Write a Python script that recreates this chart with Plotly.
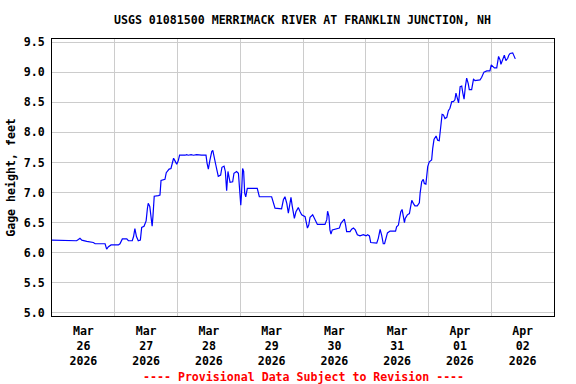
import pandas as pd
import plotly.graph_objects as go

title_text = "USGS 01081500 MERRIMACK RIVER AT FRANKLIN JUNCTION, NH"
y_title = "Gage height, feet"
footer_text = "---- Provisional Data Subject to Revision ----"

start = pd.Timestamp("2026-03-26 00:00")
end = pd.Timestamp("2026-04-03 00:00")

hours = [0, 7.5, 7.8, 9.4, 10.1, 10.7, 11.4, 12.0, 13.3, 15.8, 16.5, 20.3, 20.9, 21.6, 22.6, 25.4, 26.0, 26.9, 28.6, 29.2,
         30.7, 31.2, 31.7, 32.3, 33.0, 33.8, 34.3, 35.2, 36.0, 36.5, 36.8, 37.4, 37.9, 38.3, 38.6, 39.1, 40.7, 41.3, 41.7, 43.2,
         43.7, 44.8, 45.5, 46.0, 46.5, 47.0, 47.7, 48.3, 48.8, 50.9, 51.5, 52.1, 53.2, 54.1, 55.3, 57.2, 58.9, 59.3, 59.8, 60.4,
         61.1, 61.5, 62.0, 62.6, 63.1, 63.6, 64.5, 65.0, 65.8, 66.3, 66.8, 67.3, 68.1, 69.1, 69.6, 70.6, 71.3, 71.7, 72.2, 72.5,
         72.9, 73.3, 73.7, 74.1, 74.7, 78.5, 79.3, 84.0, 84.9, 85.3, 87.8, 88.5, 89.1, 89.8, 90.4, 91.0, 91.4, 91.9, 92.3, 92.7,
         93.3, 94.2, 94.9, 95.5, 96.8, 97.7, 98.2, 98.7, 99.7, 100.6, 101.5, 104.4, 105.1, 105.4, 105.9, 106.3, 106.7, 107.2, 108.2, 109.9,
         110.5, 111.2, 111.8, 112.3, 112.7, 114.0, 114.6, 115.3, 116.0, 116.8, 117.8, 119.1, 120.1, 120.7, 121.4, 121.9, 124.2, 124.8, 125.5, 126.1,
         126.7, 127.2, 127.7, 128.3, 129.3, 131.4, 131.8, 132.5, 132.8, 133.4, 133.9, 134.4, 134.8, 135.1, 135.9, 136.7, 137.2, 137.6, 138.2, 138.8,
         139.7, 140.5, 140.8, 141.4, 142.0, 142.4, 143.0, 143.3, 143.7, 144.3, 145.2, 145.6, 146.1, 146.9, 147.5, 148.1, 148.7, 149.2, 149.7, 150.3,
         151.0, 151.6, 152.2, 152.9, 153.5, 154.1, 154.5, 155.0, 155.5, 156.1, 156.7, 157.1, 157.6, 158.1, 158.6, 159.2, 159.6, 160.5, 161.2, 161.8,
         163.1, 163.7, 164.3, 165.2, 166.3, 167.5, 168.0, 168.5, 169.2, 170.1, 170.5, 170.8, 171.4, 171.7, 172.4, 173.0, 173.6, 174.3, 174.7, 175.2,
         176.2, 176.7, 177.2]

gage_ft = [6.21, 6.21, 6.20, 6.20, 6.22, 6.24, 6.21, 6.20, 6.19, 6.17, 6.15, 6.15, 6.06, 6.10, 6.13, 6.13, 6.15, 6.23, 6.23, 6.20,
           6.20, 6.27, 6.40, 6.27, 6.20, 6.21, 6.42, 6.44, 6.53, 6.74, 6.82, 6.77, 6.63, 6.44, 6.60, 6.94, 6.95, 6.96, 7.20, 7.22,
           7.33, 7.39, 7.40, 7.49, 7.57, 7.53, 7.47, 7.53, 7.62, 7.62, 7.63, 7.62, 7.63, 7.62, 7.63, 7.62, 7.62, 7.49, 7.39, 7.54,
           7.68, 7.70, 7.57, 7.47, 7.37, 7.27, 7.29, 7.42, 7.44, 7.35, 7.03, 7.35, 7.17, 7.18, 7.32, 7.35, 7.32, 6.99, 6.79, 6.99,
           7.40, 7.35, 6.99, 6.93, 7.07, 7.07, 6.93, 6.93, 6.77, 6.74, 6.73, 6.88, 6.93, 6.82, 6.66, 6.85, 6.92, 6.77, 6.63, 6.57,
           6.68, 6.75, 6.68, 6.63, 6.60, 6.41, 6.46, 6.59, 6.63, 6.54, 6.47, 6.47, 6.55, 6.69, 6.61, 6.38, 6.31, 6.38, 6.39, 6.41,
           6.49, 6.54, 6.56, 6.46, 6.35, 6.35, 6.39, 6.41, 6.38, 6.30, 6.28, 6.30, 6.28, 6.30, 6.28, 6.17, 6.16, 6.24, 6.39, 6.29,
           6.15, 6.15, 6.24, 6.33, 6.36, 6.36, 6.43, 6.46, 6.54, 6.68, 6.72, 6.60, 6.50, 6.57, 6.63, 6.65, 6.77, 6.87, 6.82, 6.78,
           6.78, 6.83, 6.99, 7.18, 7.22, 7.15, 7.14, 7.32, 7.43, 7.51, 7.54, 7.73, 7.88, 7.94, 7.87, 7.86, 8.05, 8.30, 8.29, 8.23,
           8.25, 8.36, 8.40, 8.51, 8.51, 8.54, 8.65, 8.58, 8.49, 8.76, 8.77, 8.66, 8.55, 8.76, 8.90, 8.81, 8.71, 8.71, 8.88, 8.86,
           8.87, 8.87, 8.91, 9.00, 9.02, 9.02, 9.12, 9.10, 9.07, 9.07, 9.19, 9.26, 9.20, 9.13, 9.21, 9.28, 9.19, 9.23, 9.28, 9.31,
           9.32, 9.26, 9.22]

tick_months = ["Mar", "Mar", "Mar", "Mar", "Mar", "Mar", "Apr", "Apr"]
tick_days = ["26", "27", "28", "29", "30", "31", "01", "02"]
tick_year = "2026"

times = [start + pd.Timedelta(hours=h) for h in hours]
day_starts = pd.date_range(start, end, freq="D")
tick_pos = [d + pd.Timedelta(hours=12) for d in day_starts[:-1]]
tick_text = [f"{m}<br>{d}<br>{tick_year}" for m, d in zip(tick_months, tick_days)]

FONT = "DejaVu Sans Mono"
FS = 11.6

fig = go.Figure()
fig.add_trace(go.Scatter(x=times, y=gage_ft, mode="lines",
                         line=dict(color="#0000ff", width=1.2), showlegend=False,
                         hoverinfo="skip"))

fig.update_layout(
    width=576, height=384,
    margin=dict(l=52, r=22, t=39, b=68),
    paper_bgcolor="white", plot_bgcolor="white",
    font=dict(family=FONT, size=FS, color="black", weight="bold"),
    showlegend=False,
    title=dict(text=title_text, x=0.525, xanchor="center", y=1 - 20 / 384, yanchor="middle",
               font=dict(family=FONT, size=FS, color="black", weight="bold")),
)

fig.update_xaxes(
    type="date",
    range=[start, end],
    tickmode="array", tickvals=tick_pos, ticktext=tick_text,
    showgrid=False, ticks="", ticklabelstandoff=4,
    showline=True, linecolor="black", linewidth=1, mirror=True,
    tickfont=dict(family=FONT, size=FS, color="black", weight="bold"),
    minor=dict(tickmode="array", tickvals=list(day_starts), showgrid=True,
               gridcolor="#cccccc", gridwidth=1, ticks=""),
    zeroline=False,
)

fig.update_yaxes(
    range=[4.95, 9.55],
    tick0=5.0, dtick=0.5, tickformat=".1f",
    showgrid=True, gridcolor="#cccccc", gridwidth=1, ticks="", ticklabelstandoff=4,
    showline=True, linecolor="black", linewidth=1, mirror=True,
    zeroline=False,
    title=dict(text=y_title, standoff=5,
               font=dict(family=FONT, size=FS, color="black", weight="bold")),
    tickfont=dict(family=FONT, size=FS, color="black", weight="bold"),
)

fig.add_annotation(text=footer_text, xref="paper", yref="paper",
                   x=0.5, y=-(377 - 316) / (316 - 39), xanchor="center", yanchor="middle",
                   showarrow=False,
                   font=dict(family=FONT, size=FS, color="red", weight="bold"))

fig.write_html("out.html", config={"displayModeBar": False},
               post_script="document.body.style.margin='0';document.body.style.overflow='hidden';")
